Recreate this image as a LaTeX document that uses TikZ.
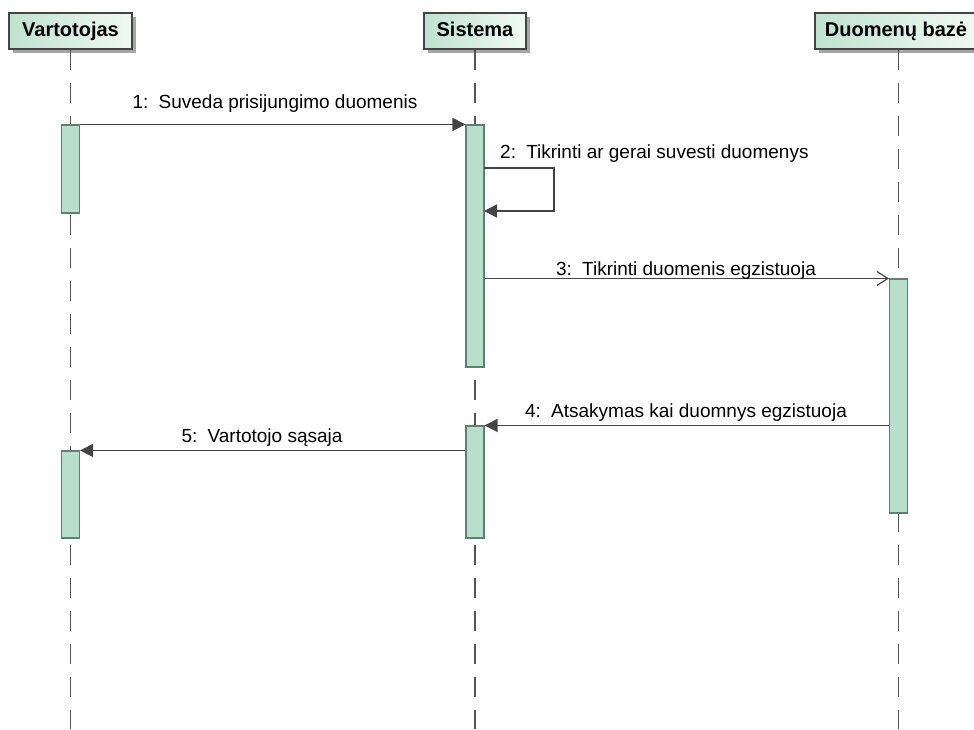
\documentclass[tikz,border=0pt]{standalone}
\usepackage{fontspec}
\setmainfont{Liberation Sans}
\usetikzlibrary{arrows.meta,shadows}
\definecolor{actfill}{HTML}{B9DECC}
\definecolor{actdraw}{HTML}{5E7F74}
\definecolor{headleft}{HTML}{BFE2D0}
\definecolor{headright}{HTML}{F2F9F5}
\definecolor{ink}{HTML}{444444}
\definecolor{lifeink}{HTML}{555555}
\begin{document}
\begin{tikzpicture}[x=1pt,y=-1pt,
  head/.style={draw=ink, line width=1.3pt, left color=headleft, right color=headright,
    inner sep=0pt, minimum height=36pt, text=black, text height=14pt, text depth=3pt,
    font=\fontsize{20}{24}\selectfont\bfseries,
    drop shadow={shadow xshift=4pt, shadow yshift=-4pt, fill=black!35, opacity=1}},
  act/.style={draw=actdraw, fill=actfill, line width=1.1pt, inner sep=0pt, minimum width=18pt},
  life/.style={draw=lifeink, line width=1.1pt, dash pattern=on 20pt off 13pt},
  msg/.style={draw=ink, line width=1.5pt},
  sync/.style={msg, -{Triangle[length=13pt,width=13pt]}},
  async/.style={msg, -{Straight Barb[length=11pt,width=14pt,line width=1.2pt]}},
  lbl/.style={anchor=base, inner sep=0pt, text=black, font=\fontsize{19}{22}\selectfont}]
\useasboundingbox (0,0) rectangle (974,729);
\fill[white] (0,0) rectangle (974,729);

% lifeline heads
\node[head, minimum width=123pt] (hv) at (70.5,31) {Vartotojas};
\node[head, minimum width=102pt] (hs) at (475,31) {Sistema};
\node[head, minimum width=162pt] (hd) at (896,31) {Duomenų bazė};

% lifeline ends
\coordinate (ev) at (70.5,729);
\coordinate (es) at (475,729);
\coordinate (ed) at (898.5,729);
\draw[life] (hv.south) -- (ev);
\draw[life] (hs.south) -- (es);
\draw[life] (hd.south -| ed) -- (ed);

% activation bars
\node[act, minimum height=88pt]  (v1) at (70.5,169)   {};
\node[act, minimum height=87pt]  (v2) at (70.5,494.5) {};
\node[act, minimum height=242pt] (s1) at (475,246)    {};
\node[act, minimum height=112pt] (s2) at (475,482)    {};
\node[act, minimum height=234pt] (db) at (898.5,396)  {};

% 1: login data
\draw[sync] (v1.north east) -- (s1.north west);
\node[lbl] (l1) at (275,108) {1:\, Suveda prisijungimo duomenis};

% 2: self check
\coordinate (selfout) at (484,168);
\coordinate (selfin) at (484,211);
\draw[sync] (selfout) -- (554,168) -- (554,211) -- (selfin);
\node[lbl, anchor=base west] (l2) at (500,158) {2:\, Tikrinti ar gerai suvesti duomenys};

% 3: existence query
\draw[async] (s1.east |- db.north) -- (db.north west);
\node[lbl] (l3) at (686,275) {3:\, Tikrinti duomenis egzistuoja};

% 4: reply
\draw[sync] (db.west |- s2.north) -- (s2.north east);
\node[lbl] (l4) at (686,417) {4:\, Atsakymas kai duomnys egzistuoja};

% 5: user interface
\draw[sync] (s2.west |- v2.north) -- (v2.north east);
\node[lbl] (l5) at (262,442) {5:\, Vartotojo sąsaja};
\end{tikzpicture}
\end{document}
